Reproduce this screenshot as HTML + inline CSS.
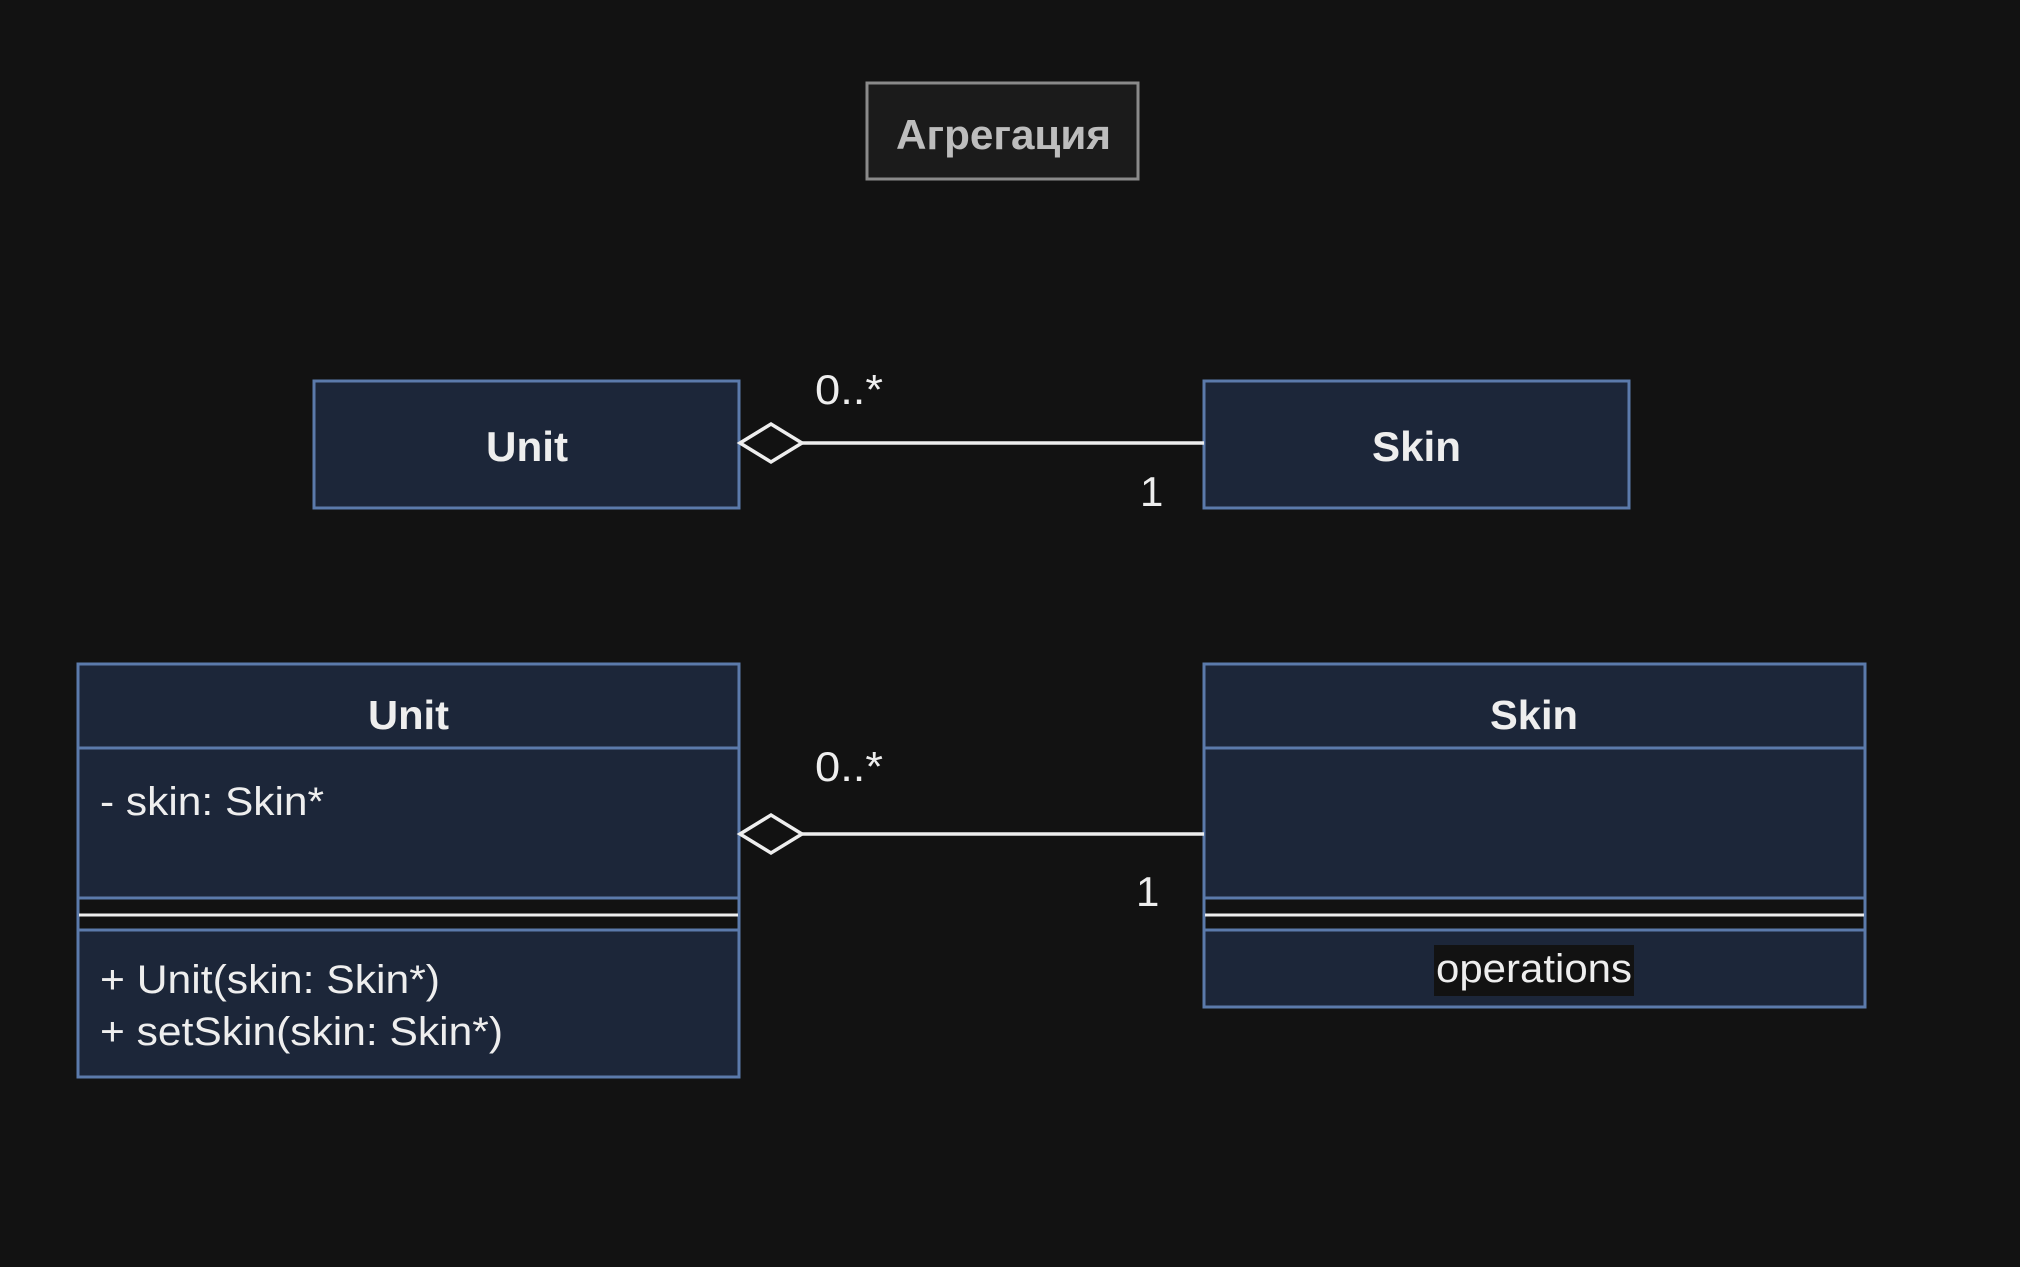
<!DOCTYPE html>
<html><head><meta charset="utf-8"><style>
html,body{margin:0;padding:0;background:#121212;}
svg{display:block;}
text{font-family:"Liberation Sans",Arial,sans-serif;fill:#eeeeee;}
</style></head><body>
<svg width="2020" height="1267" viewBox="0 0 2020 1267" xmlns="http://www.w3.org/2000/svg">
<rect width="2020" height="1267" fill="#121212"/>
<!-- title -->
<rect x="867" y="83" width="271" height="96" fill="#1b1b1b" stroke="#8a8a8a" stroke-width="3"/>
<text x="896" y="149" font-size="42" font-weight="bold" textLength="215" lengthAdjust="spacingAndGlyphs" style="fill:#bdbdbd">Агрегация</text>

<g stroke="#5b7aab" stroke-width="3" fill="#1c2639">
<rect x="314" y="381" width="425" height="127"/>
<rect x="1204" y="381" width="425" height="127"/>
<rect x="78" y="664" width="661" height="84"/>
<rect x="78" y="748" width="661" height="150"/>
<rect x="78" y="930" width="661" height="147"/>
<line x1="78" y1="898" x2="78" y2="930"/><line x1="739" y1="898" x2="739" y2="930"/>
<rect x="1204" y="664" width="661" height="84"/>
<rect x="1204" y="748" width="661" height="150"/>
<rect x="1204" y="930" width="661" height="77"/>
<line x1="1204" y1="898" x2="1204" y2="930"/><line x1="1865" y1="898" x2="1865" y2="930"/>
</g>
<line x1="79" y1="915" x2="738" y2="915" stroke="#eeeeee" stroke-width="3"/>
<line x1="1205" y1="915" x2="1864" y2="915" stroke="#eeeeee" stroke-width="3"/>

<text x="486" y="461" font-size="42" font-weight="bold" textLength="82" lengthAdjust="spacingAndGlyphs">Unit</text>
<text x="1372" y="461" font-size="42" font-weight="bold" textLength="89" lengthAdjust="spacingAndGlyphs">Skin</text>
<text x="368" y="729" font-size="41" font-weight="bold" textLength="81" lengthAdjust="spacingAndGlyphs">Unit</text>
<text x="1490" y="729" font-size="41" font-weight="bold" textLength="88" lengthAdjust="spacingAndGlyphs">Skin</text>
<text x="100" y="815" font-size="40" textLength="224" lengthAdjust="spacingAndGlyphs">- skin: Skin*</text>
<text x="100" y="993" font-size="40" textLength="340" lengthAdjust="spacingAndGlyphs">+ Unit(skin: Skin*)</text>
<text x="100" y="1045" font-size="40" textLength="403" lengthAdjust="spacingAndGlyphs">+ setSkin(skin: Skin*)</text>
<rect x="1434" y="945" width="200" height="51" fill="#121212"/>
<text x="1436" y="982" font-size="40" textLength="196" lengthAdjust="spacingAndGlyphs">operations</text>

<g stroke="#eeeeee" stroke-width="3.5" fill="#121212">
<line x1="802" y1="443" x2="1204" y2="443"/>
<polygon points="740,443 771,424 802,443 771,462"/>
<line x1="802" y1="834" x2="1204" y2="834"/>
<polygon points="740,834 771,815 802,834 771,853"/>
</g>
<text x="815" y="404" font-size="42" textLength="68" lengthAdjust="spacingAndGlyphs">0..*</text>
<text x="1140" y="506" font-size="42">1</text>
<text x="815" y="781" font-size="42" textLength="68" lengthAdjust="spacingAndGlyphs">0..*</text>
<text x="1136" y="906" font-size="42">1</text>
</svg>
</body></html>
